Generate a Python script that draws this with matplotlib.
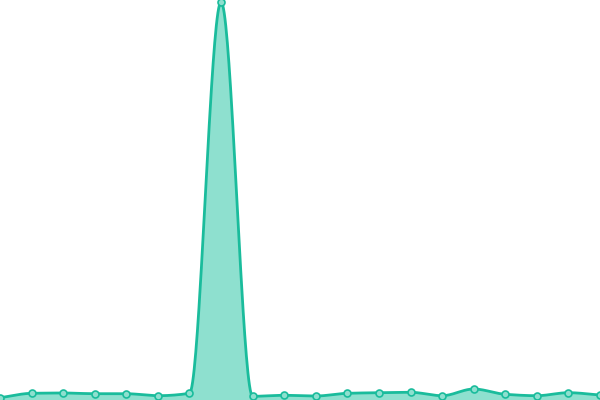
import numpy as np
import matplotlib
matplotlib.use("Agg")
import matplotlib.pyplot as plt

# values (baseline = 0)
values = [2.3, 6.7, 7.0, 6.3, 6.3, 4.3, 6.7, 398.0, 3.7, 4.7,
          4.0, 6.7, 7.3, 7.7, 4.3, 11.0, 5.7, 4.3, 7.3, 5.0]
index = list(range(len(values)))

LINE = "#1abc9c"
FILL = "#8ee0cf"


def monotone(x, y, n=40):
    """monotone cubic interpolation (Fritsch-Carlson, like d3 monotoneX)"""
    x = np.asarray(x, float)
    y = np.asarray(y, float)
    h = np.diff(x)
    d = np.diff(y) / h
    m = np.zeros_like(y)
    m[0], m[-1] = d[0], d[-1]
    for i in range(1, len(y) - 1):
        if d[i - 1] * d[i] <= 0:
            m[i] = 0
        else:
            w1 = 2 * h[i] + h[i - 1]
            w2 = h[i] + 2 * h[i - 1]
            m[i] = (w1 + w2) / (w1 / d[i - 1] + w2 / d[i])
    xs, ys = [], []
    for i in range(len(x) - 1):
        t = np.linspace(0, 1, n, endpoint=False)
        h00 = 2 * t**3 - 3 * t**2 + 1
        h10 = t**3 - 2 * t**2 + t
        h01 = -2 * t**3 + 3 * t**2
        h11 = t**3 - t**2
        xs.append(x[i] + t * h[i])
        ys.append(h00 * y[i] + h10 * h[i] * m[i] + h01 * y[i + 1] + h11 * h[i] * m[i + 1])
    xs.append([x[-1]])
    ys.append([y[-1]])
    return np.concatenate(xs), np.concatenate(ys)


fig = plt.figure(figsize=(6, 4), dpi=100)
ax = fig.add_axes([0, 0, 1, 1])

sx, sy = monotone(index, values)
ax.fill_between(sx, sy, 0, color=FILL, lw=0)
ax.plot(sx, sy, color=LINE, lw=2.0, solid_capstyle="round")
ax.plot(index, values, "o", ms=5, mfc=FILL, mec=LINE, mew=1.2)

ax.set_xlim(0, len(values) - 1)
ax.set_ylim(0, 400)
ax.axis("off")

fig.savefig("out.png", dpi=100)
